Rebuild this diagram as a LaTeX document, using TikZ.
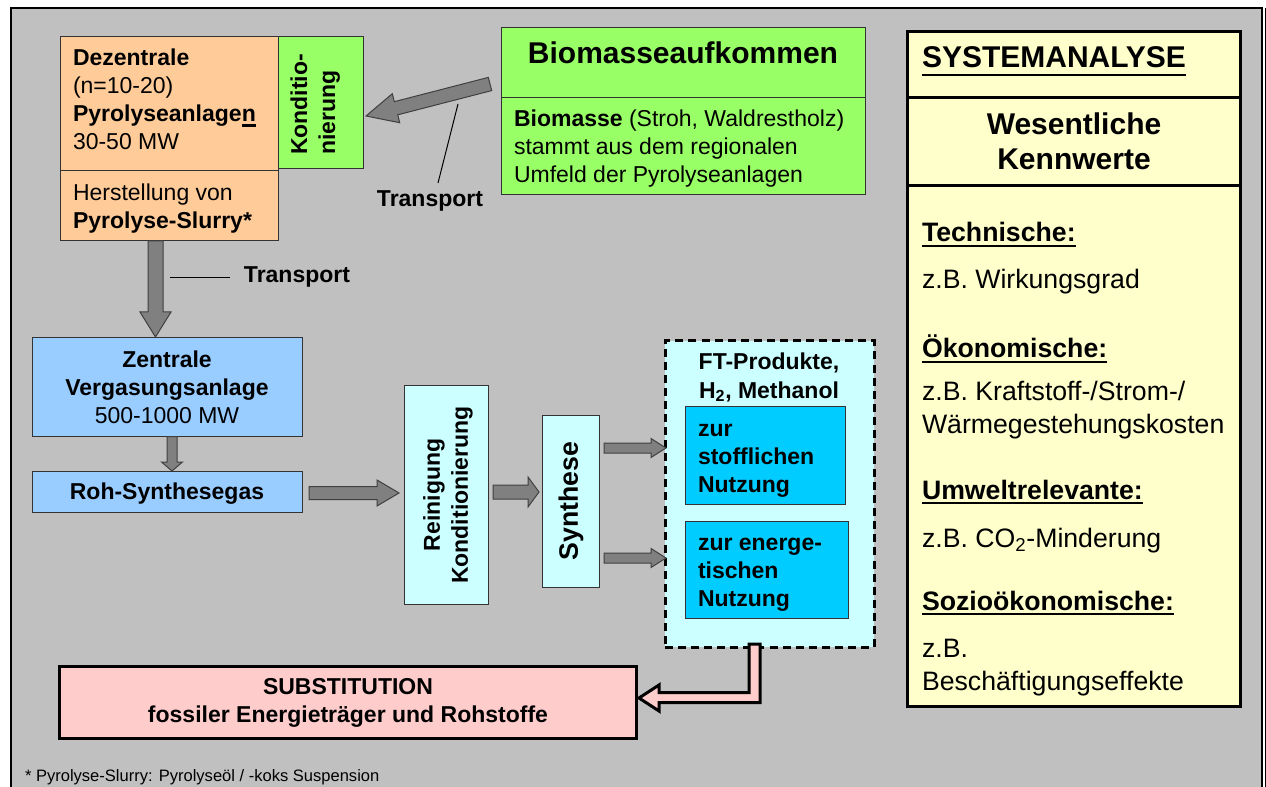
\documentclass[tikz,border=0pt]{standalone}
\usepackage{fontspec}
\setmainfont{Liberation Sans}
\usetikzlibrary{fit,calc}
\definecolor{bggray}{HTML}{C0C0C0}
\definecolor{orangebox}{HTML}{FFCC99}
\definecolor{greenbox}{HTML}{99FF66}
\definecolor{bluebox}{HTML}{99CCFF}
\definecolor{lcyan}{HTML}{CCFFFF}
\definecolor{cyanbox}{HTML}{00CCFF}
\definecolor{pinkbox}{HTML}{FFCCCC}
\definecolor{yellowbox}{HTML}{FFFFCC}
\definecolor{arrowgray}{HTML}{808080}
\newcommand\fBody{\fontsize{17.25pt}{21pt}\selectfont}
\newcommand\fBig{\fontsize{22.5pt}{26.25pt}\selectfont}
\newcommand\fMid{\fontsize{20pt}{24.5pt}\selectfont}
\newcommand\fSmall{\fontsize{12.4pt}{15pt}\selectfont}
\newcommand\ulx[2][1.8pt]{\leavevmode\vtop{\hbox{#2}\kern#1\hrule height 1.8pt}}
% block arrow: from, to, shaft half width, head half width, head length (px)
\newcommand\blockarrow[5]{%
  \path let \p1=(#1), \p2=(#2), \n1={atan2(\y2-\y1,\x2-\x1)}, \n2={veclen(\x2-\x1,\y2-\y1)} in
    \pgfextra{\pgfmathsetmacro\tmpang{\n1}\global\let\baang\tmpang
              \pgfmathsetmacro\tmplen{\n2}\global\let\balen\tmplen};
  \begin{scope}[shift={(#1)}, rotate=\baang]
    \filldraw[barrow] (0pt,{#3*0.75pt}) -- ({\balen pt-#5*0.75pt},{#3*0.75pt})
      -- ({\balen pt-#5*0.75pt},{#4*0.75pt}) -- (\balen pt,0pt)
      -- ({\balen pt-#5*0.75pt},{-#4*0.75pt}) -- ({\balen pt-#5*0.75pt},{-#3*0.75pt})
      -- (0pt,{-#3*0.75pt}) -- cycle;
  \end{scope}}
\tikzset{
  box/.style={draw=black!80, line width=0.75pt, inner sep=0pt, outer sep=0pt},
  thickbox/.style={draw=black, line width=2.25pt, inner sep=0pt, outer sep=0pt},
  txt/.style={inner sep=0pt, outer sep=0pt, font=\fBody},
  barrow/.style={fill=arrowgray, draw=black!75, line width=0.75pt},
  leader/.style={draw=black, line width=0.75pt},
}
\begin{document}
\begin{tikzpicture}[x=0.75pt,y=-0.75pt]
\useasboundingbox (0,0) rectangle (1266,787);
\clip (0,0) rectangle (1266,787);
\fill[white] (0,0) rectangle (1266,787);
\fill[bggray] (11,8) rectangle (1262,800);
\draw[line width=1.8pt] (11,800) -- (11,8) -- (1262,8) -- (1262,800);
\draw[line width=0.75pt] (1265,8) -- (1265,800);

% left column boxes
\node[box, fill=orangebox, fit={(60,37) (278,171)}] (dez) {};
\node[box, fill=orangebox, fit={(60,171) (278,241)}] (her) {};
\node[box, fill=greenbox, fit={(278,37) (363,169)}] (kon) {};
\node[box, fill=greenbox, fit={(501,28) (865,98)}] (bio1) {};
\node[box, fill=greenbox, fit={(501,98) (865,195)}] (bio2) {};
\node[box, fill=bluebox, fit={(32,338) (302,436)}] (zen) {};
\node[box, fill=bluebox, fit={(32,471) (302,512)}] (roh) {};
\node[box, fill=lcyan, fit={(404,386) (488,604)}] (rein) {};
\node[box, fill=lcyan, fit={(542,416) (599,587)}] (syn) {};
\node[draw=black, fill=lcyan, line width=2.25pt, dash pattern=on 6pt off 3.8pt, inner sep=0pt, fit={(665,341) (874,647)}] (ft) {};
\node[box, fill=cyanbox, fit={(685,407) (845,504)}] (sto) {};
\node[box, fill=cyanbox, fit={(685,521) (848,618)}] (ene) {};
\node[thickbox, fill=pinkbox, fit={(59,666) (636,738)}] (sub) {};

% right panel
\node[thickbox, fill=yellowbox, fit={(907,32) (1240,98)}] (sys1) {};
\node[thickbox, fill=yellowbox, fit={(907,98) (1240,186)}] (sys2) {};
\node[thickbox, fill=yellowbox, fit={(907,186) (1240,706)}] (sys3) {};

% arrows
\coordinate (a1s) at (490,84);
\coordinate (a1t) at (366,116);
\blockarrow{a1s}{a1t}{6.8}{15}{31}
\coordinate (a2s) at (155.5,241);
\coordinate (a2t) at (155.5,337);
\blockarrow{a2s}{a2t}{7.5}{15.5}{25}
\coordinate (a3s) at (172,436.5);
\coordinate (a3t) at (172,471);
\blockarrow{a3s}{a3t}{5}{10.5}{9}
\coordinate (a4s) at (309,493);
\coordinate (a4t) at (399,493);
\blockarrow{a4s}{a4t}{6.5}{13}{22}
\coordinate (a5s) at (493,492);
\coordinate (a5t) at (539,492);
\blockarrow{a5s}{a5t}{7}{15}{11}
\coordinate (a6s) at (604,448);
\coordinate (a6t) at (666,448);
\blockarrow{a6s}{a6t}{5}{9.5}{15}
\coordinate (a7s) at (604,558);
\coordinate (a7t) at (666,558);
\blockarrow{a7s}{a7t}{5}{9.5}{15}

% pink output arrow
\filldraw[fill=pinkbox, draw=black, line width=2.25pt, line join=miter]
  (749,644) -- (760,644) -- (760,702.5) -- (659,702.5) -- (659,711) -- (639,698)
  -- (659,685) -- (659,692.5) -- (749,692.5) -- cycle;

% leader lines
\draw[leader] (458,104) -- (438,183);
\draw[leader] (170,278) -- (230,278);

% texts (base anchor = baseline of the last line)
\node[txt, anchor=base west, align=left] (dezT) at (73,150) {\textbf{Dezentrale}\\(n=10-20)\\\textbf{Pyrolyseanlage\ulx{n}}\\30-50 MW};
\node[txt, anchor=base west, align=left] (herT) at (73,229) {Herstellung von\\\textbf{Pyrolyse-Slurry*}};
\node[txt, rotate=90, anchor=base west, align=left, font=\fBody\bfseries] (konT) at (335,155) {Konditio-\\nierung};
\node[txt, anchor=base, font=\fBig\bfseries] (bioT) at (683,64) {Biomasseaufkommen};
\node[txt, anchor=base west, align=left] (bioB) at (514,183) {\textbf{Biomasse} (Stroh, Waldrestholz)\\stammt aus dem regionalen\\Umfeld der Pyrolyseanlagen};
\node[txt, anchor=base, font=\fBody\bfseries] (tr1) at (430,207) {Transport};
\node[txt, anchor=base, font=\fBody\bfseries] (tr2) at (297,283) {Transport};
\node[txt, anchor=base, align=center] (zenT) at (167,424) {\textbf{Zentrale}\\\textbf{Vergasungsanlage}\\500-1000 MW};
\node[txt, anchor=base, font=\fBody\bfseries] (rohT) at (167,499) {Roh-Synthesegas};
\node[txt, rotate=90, align=center, font=\fBody\bfseries] (reinT) at (448,495) {Reinigung\\Konditionierung};
\node[txt, rotate=90, font=\fMid\bfseries] (synT) at (571,501) {Synthese};
\node[txt, anchor=base, align=center, font=\fBody\bfseries] (ftT) at (769,398) {FT-Produkte,\\H\textsubscript{2}, Methanol};
\node[txt, anchor=base west, align=left, font=\fBody\bfseries] (stoT) at (698,492) {zur\\stofflichen\\Nutzung};
\node[txt, anchor=base west, align=left, font=\fBody\bfseries] (eneT) at (698,606) {zur energe-\\tischen\\Nutzung};
\node[txt, anchor=base, align=center, font=\fBody\bfseries] (subT) at (348,722) {SUBSTITUTION\\fossiler Energieträger und Rohstoffe};
\node[txt, anchor=base west, font=\fSmall] (foot) at (25,781) {* Pyrolyse-Slurry: Pyrolyseöl / -koks Suspension};

\node[txt, anchor=base west, font=\fBig\bfseries] (sysT) at (922,68) {\ulx[4pt]{SYSTEMANALYSE}};
\node[txt, anchor=base, align=center, font=\fBig\bfseries] (wesT) at (1074,170) {Wesentliche\\Kennwerte};
\node[txt, anchor=base west, font=\fMid\bfseries] (tech) at (922,242) {\ulx{Technische:}};
\node[txt, anchor=base west, font=\fMid] (techv) at (922,289) {z.B. Wirkungsgrad};
\node[txt, anchor=base west, font=\fMid\bfseries] (oek) at (922,358) {\ulx{Ökonomische:}};
\node[txt, anchor=base west, align=left, font=\fMid] (oekv) at (922,433) {z.B. Kraftstoff-/Strom-/\\Wärmegestehungskosten};
\node[txt, anchor=base west, font=\fMid\bfseries] (umw) at (922,499) {\ulx{Umweltrelevante:}};
\node[txt, anchor=base west, font=\fMid] (umwv) at (922,547) {z.B. CO\textsubscript{2}-Minderung};
\node[txt, anchor=base west, font=\fMid\bfseries] (soz) at (922,610) {\ulx{Sozioökonomische:}};
\node[txt, anchor=base west, align=left, font=\fMid] (sozv) at (922,690) {z.B.\\Beschäftigungseffekte};
\end{tikzpicture}
\end{document}
